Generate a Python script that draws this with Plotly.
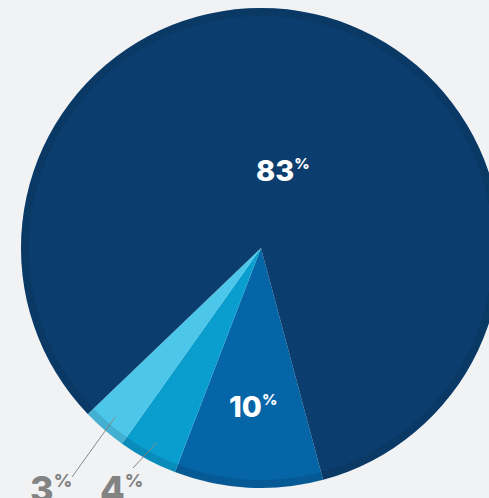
import math
import plotly.graph_objects as go

# ---- data ----
categories = ["10%", "4%", "3%", "83%"]
values = [10, 4, 3, 83]
colors = ["#0565a6", "#0a9ecf", "#4cc7ea", "#0b3e6e"]
inside_labels = {"83%": "83", "10%": "10"}
outside_labels = {"3%": "3", "4%": "4"}

# ---- geometry / style ----
W, H = 501, 498
CX, CY, R = 261, 248, 240
ROT = 165
BG = "#f1f2f4"
FONT = "Inter"
GRAY = "#838383"

fig = go.Figure(go.Pie(
    values=values, labels=categories, sort=False, direction="clockwise",
    rotation=ROT, marker=dict(colors=colors), textinfo="none",
    hoverinfo="skip", showlegend=False,
    domain=dict(x=[(CX - R) / W, (CX + R) / W],
                y=[1 - (CY + R) / H, 1 - (CY - R) / H]),
))

total = sum(values)
mids = {}
acc = ROT
for c, v in zip(categories, values):
    span = v / total * 360
    mids[c] = acc + span / 2
    acc += span


def polar(bearing, frac):
    b = math.radians(bearing)
    return CX + frac * R * math.sin(b), CY - frac * R * math.cos(b)


def paper(x, y):
    return x / W, 1 - y / H


annotations = []
# inside labels
for c, frac in (("83%", 0.335), ("10%", 0.66)):
    x, y = polar(mids[c], frac)
    px, py = paper(x, y)
    annotations.append(dict(
        x=px, y=py, xref="paper", yref="paper", xanchor="center", yanchor="middle",
        text=inside_labels[c] + '<sup><span style="font-size:15px">%</span></sup>',
        showarrow=False,
        font=dict(family=FONT, size=29, color="white", weight=800)))

# outside labels with leader lines
shapes = []
out_pos = {"3%": ((51, 489), (72, 477), 0.93), "4%": ((121, 489), (133, 468), 0.92)}
for c, ((tx, ty), (lx, ly), frac) in out_pos.items():
    sx, sy = polar(mids[c], frac)
    x0, y0 = paper(sx, sy)
    x1, y1 = paper(lx, ly)
    shapes.append(dict(type="line", xref="paper", yref="paper", x0=x0, y0=y0, x1=x1, y1=y1,
                       line=dict(color="#8a8a8a", width=1)))
    px, py = paper(tx, ty)
    annotations.append(dict(
        x=px, y=py, xref="paper", yref="paper", xanchor="center", yanchor="middle",
        text=outside_labels[c] + '<sup><span style="font-size:18px">%</span></sup>',
        showarrow=False,
        font=dict(family=FONT, size=36, color=GRAY, weight=800)))

# subtle rim
rr = R - 4
x0, y0 = paper(CX - rr, CY + rr)
x1, y1 = paper(CX + rr, CY - rr)
shapes.append(dict(type="circle", xref="paper", yref="paper", x0=x0, y0=y0, x1=x1, y1=y1,
                   line=dict(color="rgba(5,25,50,0.13)", width=8), layer="above"))

fig.update_layout(
    width=W, height=H, autosize=False,
    margin=dict(l=0, r=0, t=0, b=0),
    paper_bgcolor=BG, plot_bgcolor=BG,
    annotations=annotations, shapes=shapes,
)

fig.write_html("out.html", config={"displayModeBar": False},
               post_script="document.body.style.margin='0';document.body.style.overflow='hidden';document.body.style.background='" + BG + "';")
